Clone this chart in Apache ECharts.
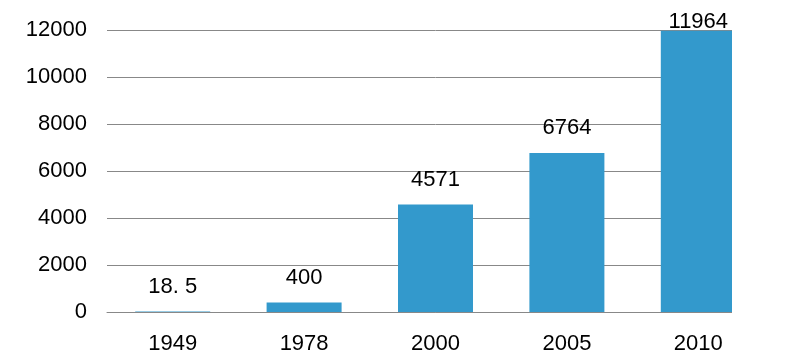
<!DOCTYPE html>
<html><head><meta charset="utf-8">
<script src="https://cdn.jsdelivr.net/npm/echarts@6/dist/echarts.min.js"></script>
<style>html,body{margin:0;padding:0;background:#fff}#c{width:786px;height:359px}</style>
</head><body><div id="c"></div>
<script>
const categories = ["1949", "1978", "2000", "2005", "2010"];
const values = [18.5, 400, 4571, 6764, 11964];
const labelTexts = ["18. 5", "400", "4571", "6764", "11964"];
const yTicks = [0, 2000, 4000, 6000, 8000, 10000, 12000];

const FONT = "'Liberation Sans', Arial, sans-serif";
const chart = echarts.init(document.getElementById('c'), null, {renderer: 'canvas'});
const data = values.map((v, i) => ({
  value: v,
  label: { distance: i === values.length - 1 ? -2 : 14 }
}));
chart.setOption({
  animation: false,
  grid: { left: 107, right: 22, top: 30, bottom: 47 },
  xAxis: {
    type: 'category', data: categories,
    axisLine: { lineStyle: { color: '#888', width: 1 } },
    axisTick: { show: false },
    axisLabel: { color: '#000', fontSize: 22, fontFamily: FONT, margin: 21 }
  },
  yAxis: {
    type: 'value', min: yTicks[0], max: yTicks[yTicks.length - 1], interval: 2000,
    axisLine: { show: false }, axisTick: { show: false },
    splitLine: { lineStyle: { color: '#888', width: 1 } },
    axisLabel: { color: '#000', fontSize: 22, fontFamily: FONT, margin: 20,
      formatter: v => String(v) }
  },
  series: [{
    type: 'bar', data: data, barWidth: 75,
    itemStyle: { color: '#3399cc' },
    label: {
      show: true, position: 'top', color: '#000', fontSize: 22, fontFamily: FONT,
      formatter: p => labelTexts[p.dataIndex]
    }
  }],
  graphic: [{
    type: 'rect', left: 732, top: 25, z: 100,
    shape: { width: 60, height: 290 },
    style: { fill: '#fff' }
  }]
});
</script></body></html>
